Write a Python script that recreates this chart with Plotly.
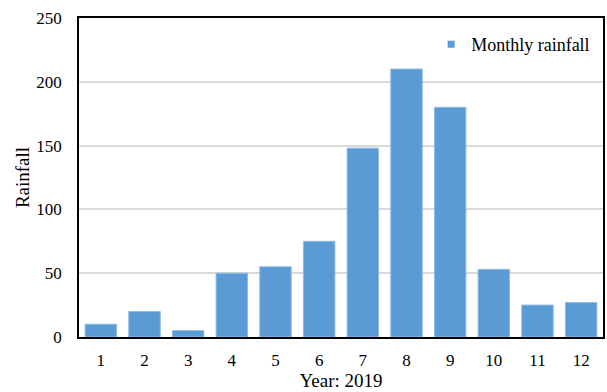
import plotly.graph_objects as go

months = [str(m) for m in range(1, 13)]
rainfall = [10, 20, 5, 50, 55, 75, 148, 210, 180, 53, 25, 27]
y_ticks = [0, 50, 100, 150, 200, 250]

FONT = "Liberation Serif, Times New Roman, serif"
BAR_COLOR = "#5B9BD5"

fig = go.Figure()
fig.add_trace(
    go.Bar(
        x=months,
        y=rainfall,
        name="Monthly rainfall",
        marker=dict(color=BAR_COLOR, line=dict(color="#8DBBE6", width=1)),
        showlegend=False,
    )
)
# small square legend key for the bar series
fig.add_trace(
    go.Scatter(
        x=[None], y=[None], mode="markers", name="Monthly rainfall",
        marker=dict(symbol="square", size=7, color=BAR_COLOR),
        showlegend=True,
    )
)

fig.update_layout(
    width=607,
    height=392,
    margin=dict(l=79, r=2, t=18, b=55),
    paper_bgcolor="white",
    plot_bgcolor="white",
    bargap=0.28,
    font=dict(family=FONT, size=17, color="black"),
    legend=dict(
        x=0.985, y=0.975, xanchor="right", yanchor="top",
        bgcolor="rgba(0,0,0,0)", font=dict(size=18),
        itemwidth=30, tracegroupgap=0,
    ),
    xaxis=dict(
        type="category",
        showline=True, linecolor="black", linewidth=1.5, mirror=True,
        ticks="", showgrid=False,
        tickfont=dict(size=17),
        ticklabelstandoff=7,
        title=dict(text="Year: 2019", font=dict(size=19), standoff=4),
    ),
    yaxis=dict(
        range=[0, 250],
        tickvals=y_ticks,
        showline=True, linecolor="black", linewidth=1.5, mirror=True,
        showgrid=True, gridcolor="#D9D9D9", gridwidth=1.5,
        ticks="", tickfont=dict(size=17),
        ticklabelstandoff=12,
        zeroline=False,
        title=dict(text="Rainfall", font=dict(size=19), standoff=2),
    ),
)

fig.write_html("out.html")
